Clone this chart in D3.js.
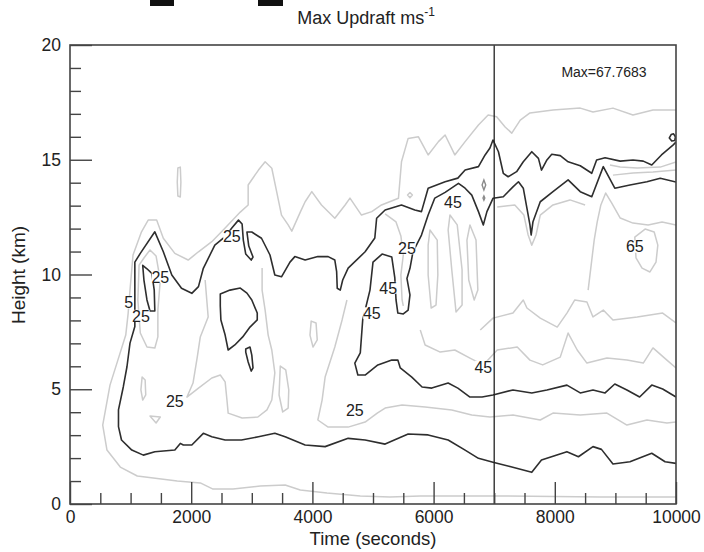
<!DOCTYPE html>
<html><head><meta charset="utf-8">
<script src="https://cdn.jsdelivr.net/npm/d3@7/dist/d3.min.js"></script>
<style>body{margin:0;background:#fff}text{font-family:"Liberation Sans",Arial,sans-serif}</style>
</head><body><svg id="c" width="704" height="552"></svg>
<script>
// ---- axis ticks ----
const xMajorTicks = [0,2000,4000,6000,8000,10000];
const xMinorTicks = [500,1000,1500,2500,3000,3500,4500,5000,5500,6500,7000,7500,8500,9000,9500];
const yMajorTicks = [0,5,10,15,20];
const yMinorTicks = [1,2,3,4,6,7,8,9,11,12,13,14,16,17,18,19];
const markTime = 7000;
const maxValue = "67.7683";

// ---- dark contours [time s, height km] ----
const darkOuter = [[10000,1.77],[9820,1.84],[9600,2.21],[9240,1.84],[8960,1.74],[8770,2.38],[8630,2.50],[8390,2.06],[8200,2.28],[7780,1.92],[7620,1.38],[7260,1.63],[6980,1.82],[6740,1.99],[6520,2.35],[6240,2.79],[5910,3.01],[5580,3.05],[5200,2.61],[4870,2.79],[4590,2.86],[4210,2.50],[3880,2.57],[3550,2.93],[3380,3.08],[3110,2.93],[2830,2.79],[2560,2.79],[2340,2.93],[2200,3.08],[2010,2.57],[1870,2.57],[1820,2.64],[1730,2.35],[1400,2.28],[1210,2.13],[1020,2.35],[850,2.79],[800,3.37],[800,4.10],[880,5.11],[940,5.98],[990,7.01],[1070,7.73],[1070,8.89],[1070,10.54],[1160,10.92],[1400,11.86],[1540,10.99],[1680,9.98],[1840,9.40],[2010,9.18],[2120,9.47],[2200,10.27],[2390,11.28],[2560,11.65],[2670,12.03],[2780,12.37],[2840,12.20],[2860,11.50],[2900,10.89],[2990,10.63],[3020,10.76],[2950,11.24],[2920,11.85],[3000,11.85],[3160,11.58],[3300,10.85],[3380,9.98],[3490,9.90],[3630,10.54],[3710,10.78],[3880,10.63],[4090,10.78],[4260,10.78],[4370,10.63],[4400,10.12],[4410,9.40],[4460,9.32],[4500,9.76],[4590,10.28],[4870,10.99],[5030,11.59],[5060,12.45],[5200,12.81],[5470,13.03],[5690,12.81],[5800,12.74],[5910,13.76],[6190,14.04],[6400,14.20],[6520,14.55],[6740,14.70],[6850,15.21],[6930,15.51],[6980,15.86],[7070,15.35],[7150,14.41],[7230,14.26],[7370,14.48],[7480,14.91],[7620,15.35],[7730,15.06],[7780,14.55],[7870,14.99],[7950,15.24],[8090,15.18],[8220,14.91],[8420,14.74],[8610,14.41],[8690,14.99],[8830,15.09],[9080,14.94],[9290,14.99],[9460,14.94],[9600,14.77],[9760,15.21],[9950,15.64],[10000,15.77]];
const darkMid = [[10000,14.03],[9740,14.19],[9520,14.04],[9240,13.90],[8990,13.76],[8800,14.70],[8610,13.39],[8420,13.61],[8220,14.12],[7970,13.61],[7760,13.17],[7640,12.30],[7610,11.72],[7590,12.16],[7480,13.76],[7400,14.04],[7310,13.82],[7150,13.39],[6980,13.32],[6880,12.74],[6820,12.16],[6740,12.74],[6630,13.46],[6520,13.76],[6410,13.97],[6190,13.58],[6020,13.33],[5910,12.59],[5800,11.72],[5660,10.99],[5610,10.27],[5560,9.83],[5610,9.11],[5580,8.45],[5500,8.28],[5410,8.32],[5380,8.89],[5360,9.85],[5310,10.76],[5150,10.89],[5000,10.54],[4950,9.32],[4830,8.02],[4790,6.58],[4700,6.14],[4750,5.62],[4870,5.62],[5080,6.06],[5310,6.27],[5410,6.27],[5450,5.93],[5640,5.53],[5810,5.10],[5970,5.05],[6240,5.27],[6400,5.05],[6600,4.66],[6800,4.66],[6980,4.75],[7310,4.97],[7620,4.84],[7870,4.97],[8200,5.18],[8420,4.84],[8630,4.97],[8830,4.84],[8990,5.23],[9190,4.97],[9400,4.66],[9600,5.18],[9780,5.01],[10000,4.66]];
const darkTongue = [[1200,10.40],[1270,10.25],[1350,10.05],[1390,9.32],[1400,8.41],[1320,8.41],[1270,8.89],[1220,9.76]];
const darkBlob = [[2480,9.15],[2640,9.32],[2810,9.41],[2920,9.19],[3000,8.89],[3090,8.32],[3090,8.02],[2970,7.71],[2850,7.28],[2720,6.93],[2610,6.71],[2560,7.36],[2490,8.02],[2480,8.63]];
const darkBlobSmall = [[2900,6.75],[2970,6.84],[3000,6.49],[3020,5.93],[2990,5.79],[2940,6.19],[2900,6.62]];
const darkCircle = [[9890,15.95],[9920,16.10],[9960,16.13],[9990,16.00],[9980,15.84],[9930,15.82]];
const greyMark = [[6800,13.90],[6830,14.12],[6860,13.90],[6830,13.68]];
const greyDot = [[6815,13.33],[6830,13.42],[6845,13.33],[6830,13.24]];

// ---- light contours ----
const lightOuter = [[10000,0.30],[8750,0.30],[7100,0.35],[5780,0.35],[5280,0.30],[4790,0.35],[4240,0.48],[3800,0.61],[3550,0.83],[3140,0.78],[2690,0.65],[2360,0.65],[2150,0.92],[1770,1.00],[1110,1.22],[830,1.61],[610,2.35],[540,3.44],[660,5.18],[790,6.27],[920,7.36],[960,8.32],[990,9.32],[1040,10.85],[1180,11.86],[1290,12.37],[1430,12.37],[1540,11.58],[1730,10.92],[1950,10.63],[2120,10.99],[2340,11.43],[2560,12.03],[2810,12.72],[2940,13.03],[2940,13.90],[3110,14.55],[3220,14.91],[3330,14.63],[3410,13.61],[3490,12.59],[3600,12.16],[3660,11.89],[3800,12.72],[3880,13.17],[3990,13.61],[4150,13.03],[4370,12.45],[4540,13.03],[4620,13.33],[4810,12.59],[4980,12.74],[5140,13.03],[5420,13.32],[5470,14.91],[5580,15.93],[5750,16.00],[5910,15.21],[6080,15.79],[6190,16.08],[6350,15.21],[6520,15.79],[6740,16.51],[6900,16.95],[7040,16.87],[7180,16.43],[7290,16.16],[7430,16.73],[7590,17.04],[7970,17.17],[8420,17.25],[8630,17.08],[8960,17.25],[9290,16.95],[9620,17.17],[10000,17.17]];
const lightSliver = [[1780,14.64],[1820,14.68],[1830,14.03],[1820,13.38],[1780,13.42],[1770,14.03]];
const lightTongue = [[1220,10.72],[1320,11.07],[1420,10.81],[1490,9.76],[1450,8.45],[1450,7.28],[1400,6.80],[1270,6.84],[1160,7.45],[1120,8.89],[1140,10.41]];
const lightInner1 = [[2230,9.76],[2280,8.15],[2150,7.28],[2100,6.40],[2030,5.27],[1930,4.66],[2120,5.05],[2340,5.49],[2480,5.62],[2560,5.32],[2590,4.53],[2610,3.96],[2840,3.75],[3100,3.79],[3250,4.10],[3330,4.53],[3380,5.71],[3330,6.71],[3270,7.36],[3220,8.45],[3170,9.32],[3170,10.28]];
const lightSpot1 = [[1190,5.53],[1240,5.40],[1250,4.75],[1200,4.53],[1170,4.97]];
const lightSpot2 = [[1320,3.83],[1490,3.79],[1420,3.53]];
const lightSpot3 = [[3470,6.01],[3560,5.84],[3610,4.97],[3600,4.18],[3510,4.01],[3450,4.75]];
const lightSpot4 = [[3980,7.97],[4060,7.89],[4080,7.15],[4010,6.84],[3960,7.36]];
const lightInner3 = [[4570,8.89],[4490,8.02],[4370,6.84],[4210,5.53],[4160,4.53],[4090,3.66],[4260,3.35],[4590,3.35],[4870,3.57],[5070,3.96],[5200,4.18],[5480,4.31],[5860,4.23],[6300,4.10],[6630,3.88],[6930,3.79],[7310,3.88],[7760,3.66],[7970,3.96],[8420,3.88],[8860,3.96],[9190,3.44],[9520,3.66],[9850,3.53],[10000,3.57]];
const lightRight1 = [[5780,7.58],[5860,6.93],[6110,6.62],[6350,6.71],[6600,6.36],[6820,6.06],[7050,6.71],[7380,6.84],[7590,6.27],[7800,6.06],[8090,6.40],[8220,7.45],[8370,6.71],[8530,6.14],[8860,6.36],[9190,6.27],[9460,6.14],[9620,6.80],[9850,6.27],[10000,5.93]];
const lightRight2 = [[6770,7.58],[6980,8.10],[7310,8.32],[7480,8.89],[7540,8.54],[7760,8.10],[8040,7.71],[8200,8.32],[8330,8.89],[8530,8.80],[8630,8.15],[8800,8.45],[8960,8.02],[9360,8.15],[9780,8.32],[10000,7.89]];
const lightRight3 = [[8550,9.32],[8600,10.41],[8650,11.50],[8700,12.29],[8760,13.03],[8840,13.55],[8940,13.11],[9080,12.46],[9290,12.24],[9540,12.16],[9770,12.29],[10000,12.16]];
const lightUpperA = [[8910,14.77],[9080,14.68],[9360,14.64],[9740,14.68],[10000,14.90]];
const lightUpperB = [[8960,14.33],[9290,14.42],[9620,14.47],[10000,14.55]];
const lightSpike = [[7050,12.94],[7340,13.03],[7490,12.59],[7560,11.72],[7620,11.28],[7690,11.72],[7760,12.59],[7970,13.03],[8250,13.25],[8500,13.03]];
const lightLobe = [[5200,12.64],[5380,12.29],[5460,11.68],[5500,10.85],[5460,9.98],[5480,8.89],[5500,8.63]];
const lightT1 = [[5940,11.94],[6060,11.50],[6070,9.98],[6040,8.67],[5960,8.54],[5910,9.98],[5910,11.28]];
const lightT2 = [[6270,12.59],[6390,12.16],[6470,10.20],[6470,8.67],[6370,8.37],[6300,10.20],[6240,11.94]];
const lightT3 = [[6600,12.16],[6700,11.50],[6730,9.32],[6670,8.89],[6580,9.76],[6550,11.50]];
const lightCircle = [[5570,13.46],[5610,13.57],[5650,13.46],[5610,13.35]];
const light65 = [[9320,11.63],[9490,11.98],[9640,11.85],[9700,11.28],[9670,10.54],[9570,10.11],[9440,10.28],[9340,10.72]];

// ---- contour labels ----
const labelText = ["5","25","25","25","25","25","25","45","45","45","45","65"];
const labelTime = [970,1170,1490,2670,1730,4700,5560,6320,5250,4980,6820,9320];
const labelHeight = [8.78,8.20,9.90,11.65,4.46,4.10,11.14,13.17,9.42,8.31,5.98,11.21];

// ---- drawing ----
const svg = d3.select("#c");
const x = d3.scaleLinear().domain([0,10000]).range([70,676]);
const y = d3.scaleLinear().domain([0,20]).range([504,45]);

svg.append("rect").attr("width",704).attr("height",552).attr("fill","#fff");
// cut-off text remnants at the very top
svg.append("rect").attr("x",150).attr("y",0).attr("width",24).attr("height",6).attr("fill","#111");
svg.append("rect").attr("x",258).attr("y",0).attr("width",25).attr("height",6).attr("fill","#111");

svg.append("defs").append("clipPath").attr("id","pc").append("rect")
  .attr("x",x(0)).attr("y",y(20)).attr("width",x(10000)-x(0)).attr("height",y(0)-y(20));
const g = svg.append("g").attr("clip-path","url(#pc)");

const open = d3.line().x(d=>x(d[0])).y(d=>y(d[1]));
const closed = d3.line().x(d=>x(d[0])).y(d=>y(d[1])).curve(d3.curveLinearClosed);

const lightOpen = [lightOuter,lightInner1,lightInner3,lightRight1,lightRight2,lightRight3,lightUpperA,lightUpperB,lightSpike,lightLobe];
const lightClosed = [lightSliver,lightTongue,lightSpot1,lightSpot2,lightSpot3,lightSpot4,lightT1,lightT2,lightT3,lightCircle,light65];
const LC = "#cccccc", DC = "#2e2e2e";
lightOpen.forEach(a=>g.append("path").attr("d",open(a)).attr("fill","none").attr("stroke",LC).attr("stroke-width",1.5).attr("stroke-linejoin","round"));
lightClosed.forEach(a=>g.append("path").attr("d",closed(a)).attr("fill","none").attr("stroke",LC).attr("stroke-width",1.5).attr("stroke-linejoin","round"));
[darkOuter,darkMid].forEach(a=>g.append("path").attr("d",open(a)).attr("fill","none").attr("stroke",DC).attr("stroke-width",1.6).attr("stroke-linejoin","round"));
[darkTongue,darkBlob,darkBlobSmall,darkCircle].forEach(a=>g.append("path").attr("d",closed(a)).attr("fill","none").attr("stroke",DC).attr("stroke-width",1.6).attr("stroke-linejoin","round"));
[greyMark,greyDot].forEach(a=>g.append("path").attr("d",closed(a)).attr("fill","none").attr("stroke","#8a8a8a").attr("stroke-width",1.4));

// contour labels
labelText.forEach((t,i)=>{
  const lx = x(labelTime[i]), ly = y(labelHeight[i]);
  const w = t.length*8.6;
  g.append("rect").attr("x",lx-w/2).attr("y",ly-6).attr("width",w).attr("height",12).attr("fill","#fff");
  g.append("text").attr("x",lx).attr("y",ly).attr("dy","0.36em").attr("text-anchor","middle")
    .attr("font-size",16).attr("fill","#222").text(t);
});

// vertical marker line
svg.append("line").attr("x1",x(markTime)).attr("x2",x(markTime)).attr("y1",y(20)).attr("y2",y(0))
  .attr("stroke","#222").attr("stroke-width",1.3);

// axes
function styleAxis(sel){
  sel.select(".domain").remove();
  sel.selectAll(".tick line").attr("stroke","#444").attr("stroke-width",1.4);
  sel.selectAll(".tick text").attr("font-size",17.5).attr("fill","#222").attr("font-family","'Liberation Sans',Arial,sans-serif");
}
svg.append("g").attr("transform",`translate(0,${y(0)})`)
  .call(d3.axisBottom(x).tickValues(xMinorTicks).tickSize(-11).tickFormat("")).call(styleAxis);
svg.append("g").attr("transform",`translate(0,${y(0)})`)
  .call(d3.axisBottom(x).tickValues(xMajorTicks).tickSize(-22).tickPadding(7).tickFormat(d3.format("d"))).call(styleAxis);
svg.append("g").attr("transform",`translate(${x(0)},0)`)
  .call(d3.axisLeft(y).tickValues(yMinorTicks).tickSize(-11).tickFormat("")).call(styleAxis);
svg.append("g").attr("transform",`translate(${x(0)},0)`)
  .call(d3.axisLeft(y).tickValues(yMajorTicks).tickSize(-22).tickPadding(9).tickFormat(d3.format("d"))).call(styleAxis);

// frame
svg.append("rect").attr("x",x(0)).attr("y",y(20)).attr("width",x(10000)-x(0)).attr("height",y(0)-y(20))
  .attr("fill","none").attr("stroke","#444").attr("stroke-width",1.6);

// texts
const title = svg.append("text").attr("x",366).attr("y",24).attr("text-anchor","middle").attr("font-size",18).attr("fill","#222");
title.append("tspan").text("Max Updraft ms");
title.append("tspan").attr("dy",-8).attr("font-size",12).text("-1");
svg.append("text").attr("x",373).attr("y",545).attr("text-anchor","middle").attr("font-size",18.5).attr("fill","#222").text("Time (seconds)");
svg.append("text").attr("transform","translate(25,275) rotate(-90)").attr("text-anchor","middle").attr("font-size",19).attr("fill","#222").text("Height (km)");
svg.append("text").attr("x",604).attr("y",77).attr("text-anchor","middle").attr("font-size",14).attr("fill","#222").text("Max=" + maxValue);
</script></body></html>
